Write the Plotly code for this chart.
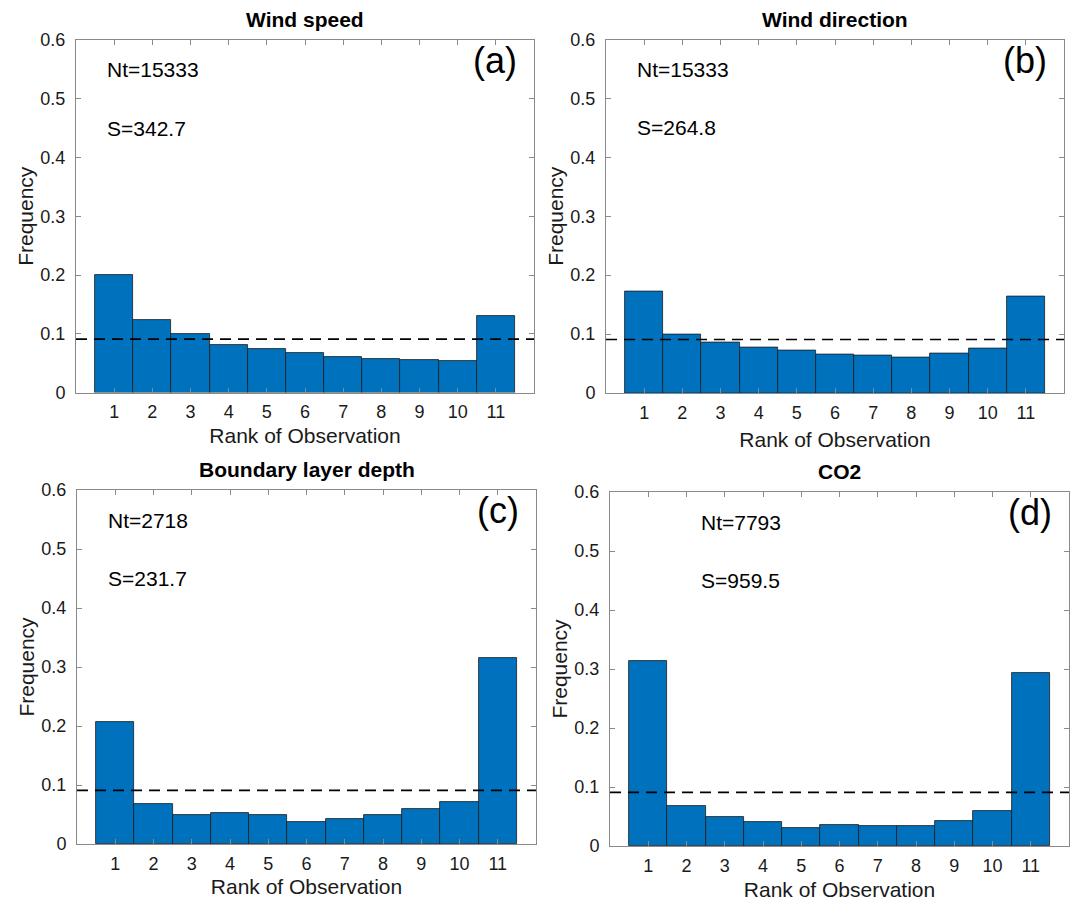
import plotly.graph_objects as go

# ---- data ----
ranks = list(range(1, 12))
titles = ["Wind speed", "Wind direction", "Boundary layer depth", "CO2"]
panel_labels = ["(a)", "(b)", "(c)", "(d)"]
nt_texts = ["Nt=15333", "Nt=15333", "Nt=2718", "Nt=7793"]
s_texts = ["S=342.7", "S=264.8", "S=231.7", "S=959.5"]

freq_wind_speed = [0.200, 0.123, 0.100, 0.081, 0.074, 0.068, 0.060, 0.057, 0.056, 0.054, 0.131]
freq_wind_dir = [0.173, 0.0985, 0.086, 0.0765, 0.072, 0.065, 0.064, 0.061, 0.067, 0.076, 0.163]
freq_bld = [0.207, 0.068, 0.050, 0.052, 0.049, 0.037, 0.042, 0.0495, 0.0585, 0.072, 0.3146]
freq_co2 = [0.3135, 0.0675, 0.0495, 0.0405, 0.031, 0.0355, 0.0343, 0.0343, 0.0428, 0.0597, 0.2938]
series = [freq_wind_speed, freq_wind_dir, freq_bld, freq_co2]

expected_freq = 1 / len(ranks)
y_ticks = [0, 0.1, 0.2, 0.3, 0.4, 0.5, 0.6]

# ---- layout geometry (pixels) ----
W, H = 1077, 902
boxes = [  # x0, x1, ytop, ybottom
    (76, 534, 40, 392.5),
    (606, 1064, 39.5, 393),
    (77, 536, 490, 844),
    (610, 1069, 492, 846),
]
nt_x = [0.77, 0.77, 0.77, 2.33]
xtitle_standoff = [7, 10, 6, 7]

FONT = "Liberation Sans, Arial, Helvetica, sans-serif"
BAR_COLOR = "#0072BD"
AXIS_COLOR = "#8a8a8a"

fig = go.Figure()
layout = dict(
    width=W, height=H,
    margin=dict(l=0, r=0, t=0, b=0, autoexpand=False),
    paper_bgcolor="white", plot_bgcolor="white",
    showlegend=False, bargap=0,
    font=dict(family=FONT, size=18, color="#1a1a1a"),
)
annotations = []

for i in range(4):
    x0, x1, yt, yb = boxes[i]
    xs = "" if i == 0 else str(i + 1)
    xa, ya = "x" + xs, "y" + xs
    fig.add_trace(go.Bar(
        x=ranks, y=series[i], width=1,
        marker=dict(color=BAR_COLOR, line=dict(color="#1a1a1a", width=0.8)),
        xaxis=xa, yaxis=ya,
    ))
    fig.add_trace(go.Scatter(
        x=[0, 12], y=[expected_freq, expected_freq], mode="lines",
        line=dict(color="black", width=1.6, dash="11px,7px"),
        xaxis=xa, yaxis=ya,
    ))
    layout["xaxis" + xs] = dict(
        domain=[x0 / W, x1 / W], anchor=ya, range=[0, 12], automargin=False,
        tickmode="array", tickvals=ranks, ticktext=[str(r) for r in ranks],
        ticks="inside", ticklen=5, tickcolor=AXIS_COLOR,
        showline=True, linecolor=AXIS_COLOR, linewidth=1, mirror="ticks",
        showgrid=False, zeroline=False, tickfont=dict(size=18),
        ticklabelstandoff=3,
        title=dict(text="Rank of Observation", font=dict(size=21), standoff=xtitle_standoff[i]),
        fixedrange=True,
    )
    layout["yaxis" + xs] = dict(
        domain=[1 - yb / H, 1 - yt / H], anchor=xa, range=[0, 0.6], automargin=False,
        tickmode="array", tickvals=y_ticks, ticktext=["0", "0.1", "0.2", "0.3", "0.4", "0.5", "0.6"],
        ticks="inside", ticklen=5, tickcolor=AXIS_COLOR,
        showline=True, linecolor=AXIS_COLOR, linewidth=1, mirror="ticks",
        showgrid=False, zeroline=False, tickfont=dict(size=18),
        ticklabelstandoff=6,
        title=dict(text="Frequency", font=dict(size=21), standoff=1),
        fixedrange=True,
    )
    annotations.append(dict(
        text="<b>" + titles[i] + "</b>", x=0.5, y=1.0,
        xref=xa + " domain", yref=ya + " domain",
        xanchor="center", yanchor="bottom", yshift=7,
        showarrow=False, font=dict(size=21, color="black"),
    ))
    annotations.append(dict(
        text=nt_texts[i], x=nt_x[i], y=0.549, xref=xa, yref=ya,
        xanchor="left", yanchor="middle", showarrow=False,
        font=dict(size=21, color="black"),
    ))
    annotations.append(dict(
        text=s_texts[i], x=nt_x[i], y=0.45, xref=xa, yref=ya,
        xanchor="left", yanchor="middle", showarrow=False,
        font=dict(size=21, color="black"),
    ))
    annotations.append(dict(
        text=panel_labels[i], x=11.6, y=0.565, xref=xa, yref=ya,
        xanchor="right", yanchor="middle", showarrow=False,
        font=dict(size=36, color="black"),
    ))

layout["annotations"] = annotations
fig.update_layout(**layout)
fig.write_html(
    "out.html",
    config={"displayModeBar": False},
    post_script="document.body.style.margin='0px';document.body.style.overflow='hidden';",
)
